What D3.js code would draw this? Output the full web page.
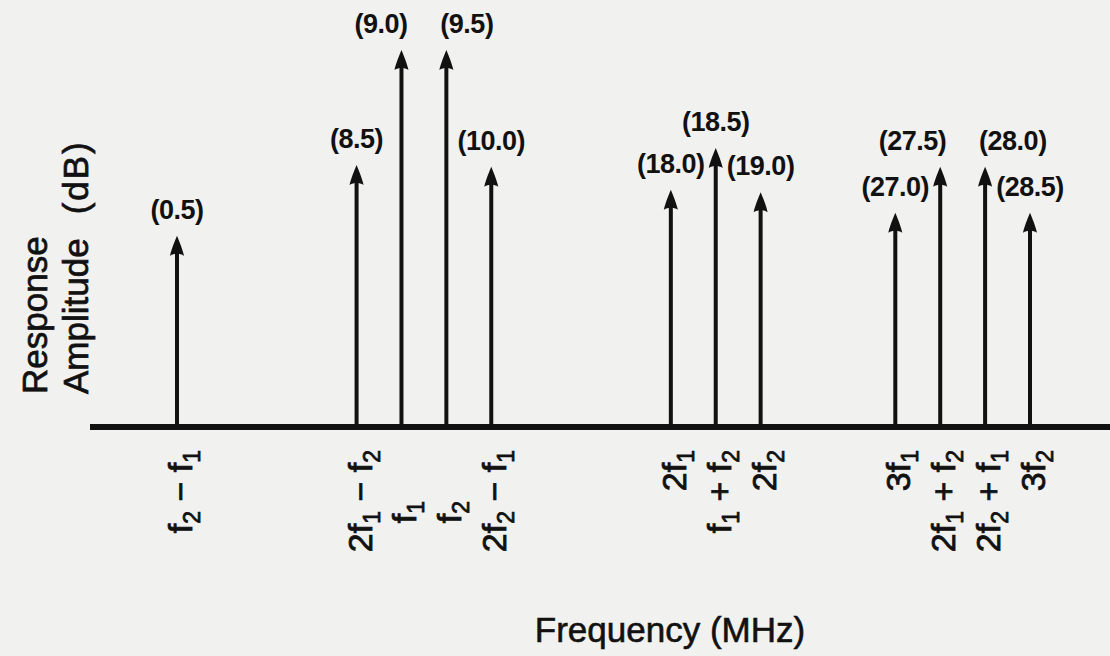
<!DOCTYPE html>
<html>
<head>
<meta charset="utf-8">
<script src="https://cdn.jsdelivr.net/npm/d3@7/dist/d3.min.js"></script>
<style>
  body { margin: 0; background: #f1f1ef; }
  svg { display: block; }
  text { font-family: "Liberation Sans", Arial, sans-serif; fill: #111; }
</style>
</head>
<body>
<div id="container"></div>
<script>
// spectral lines, MHz
const freqs = [0.5, 8.5, 9.0, 9.5, 10.0, 18.0, 18.5, 19.0, 27.0, 27.5, 28.0, 28.5];
// schematic position of each line along the (broken) frequency axis
const slots = [0, 4, 5, 6, 7, 11, 12, 13, 16, 17, 18, 19];
// relative response amplitude (tallest = 100)
const amplitudes = [50.7, 69.5, 100, 100, 69, 62.9, 74, 62.3, 56.8, 69, 69, 56.8];
const valueLabels = ["(0.5)", "(8.5)", "(9.0)", "(9.5)", "(10.0)", "(18.0)", "(18.5)", "(19.0)",
                     "(27.0)", "(27.5)", "(28.0)", "(28.5)"];
// product terms under each line, "_n" = subscript
const terms = ["f_2 − f_1", "2f_1 − f_2", "f_1", "f_2", "2f_2 − f_1", "2f_1", "f_1 + f_2", "2f_2",
               "3f_1", "2f_1 + f_2", "2f_2 + f_1", "3f_2"];
const fundamentals = [9.0, 9.5];

const w = 1110;
const h = 656;
const baseY = 427;

const data = freqs.map((f, i) => ({
  freq: f, slot: slots[i], amp: amplitudes[i], label: valueLabels[i], term: terms[i]
}));

const xScale = d3.scaleLinear().domain([0, 19]).range([177, 1030]);
const yScale = d3.scaleLinear().domain([0, 100]).range([baseY, 50]);

const svg = d3.select("#container")
  .append("svg")
  .attr("width", w)
  .attr("height", h);

svg.append("rect").attr("width", w).attr("height", h).attr("fill", "#f1f1ef");

// baseline
svg.append("line")
  .attr("x1", 90).attr("x2", w)
  .attr("y1", baseY).attr("y2", baseY)
  .attr("stroke", "#111")
  .attr("stroke-width", 6);

// stems
svg.selectAll(".stem")
  .data(data)
  .enter()
  .append("line")
  .attr("class", "stem")
  .attr("x1", d => xScale(d.slot))
  .attr("x2", d => xScale(d.slot))
  .attr("y1", baseY)
  .attr("y2", d => yScale(d.amp) + 12)
  .attr("stroke", "#111")
  .attr("stroke-width", 4);

// arrow heads
const head = "M0,0 C2,5 5.5,13 7,20 C5,18.5 2,18 0,18 C-2,18 -5,18.5 -7,20 C-5.5,13 -2,5 0,0 Z";
svg.selectAll(".head")
  .data(data)
  .enter()
  .append("path")
  .attr("class", "head")
  .attr("d", head)
  .attr("fill", "#111")
  .attr("transform", d => "translate(" + xScale(d.slot) + "," + yScale(d.amp) + ")");

// frequency values above arrows; equal-height neighbours are pushed apart
const sameAmp = (i, j) => j >= 0 && j < data.length && data[j].amp === data[i].amp;
svg.selectAll(".value")
  .data(data)
  .enter()
  .append("text")
  .attr("class", "value")
  .attr("x", (d, i) => xScale(d.slot) + (sameAmp(i, i + 1) ? 6 : sameAmp(i, i - 1) ? -6 : 0))
  .attr("y", d => yScale(d.amp) - 17)
  .attr("text-anchor", (d, i) => sameAmp(i, i + 1) ? "end" : sameAmp(i, i - 1) ? "start" : "middle")
  .attr("font-size", 27)
  .attr("font-weight", "bold")
  .attr("letter-spacing", -0.5)
  .text(d => d.label);

// rotated product terms
const termG = svg.selectAll(".term")
  .data(data)
  .enter()
  .append("g")
  .attr("class", "term")
  .attr("transform", d => {
    const isFund = fundamentals.includes(d.freq);
    return "translate(" + (xScale(d.slot) + 15) + "," + (isFund ? 512 : 450) + ") rotate(-90)";
  });

termG.append("text")
  .attr("text-anchor", d => fundamentals.includes(d.freq) ? "middle" : "end")
  .attr("font-size", 34)
  .attr("stroke", "#111")
  .attr("stroke-width", 0.8)
  .each(function(d) {
    const t = d3.select(this);
    const parts = d.term.split(/(_\d)/).filter(s => s.length);
    let shifted = false;
    parts.forEach(p => {
      if (p[0] === "_") {
        t.append("tspan").attr("font-size", 23).attr("dy", 8).text(p.slice(1));
        shifted = true;
      } else {
        const s = t.append("tspan").text(p);
        if (shifted) { s.attr("dy", -8); shifted = false; }
      }
    });
  });

// axis titles
svg.append("text")
  .attr("transform", "translate(47,394) rotate(-90)")
  .attr("font-size", 35)
  .attr("stroke", "#111")
  .attr("stroke-width", 0.7)
  .text("Response");

const amp = svg.append("text")
  .attr("transform", "translate(88,394) rotate(-90)")
  .attr("font-size", 35)
  .attr("stroke", "#111")
  .attr("stroke-width", 0.7);
amp.append("tspan").text("Amplitude");
amp.append("tspan").attr("dx", 24).attr("letter-spacing", 2).text("(dB)");

svg.append("text")
  .attr("x", 670)
  .attr("y", 642)
  .attr("text-anchor", "middle")
  .attr("font-size", 35)
  .attr("stroke", "#111")
  .attr("stroke-width", 0.6)
  .text("Frequency (MHz)");
</script>
</body>
</html>
